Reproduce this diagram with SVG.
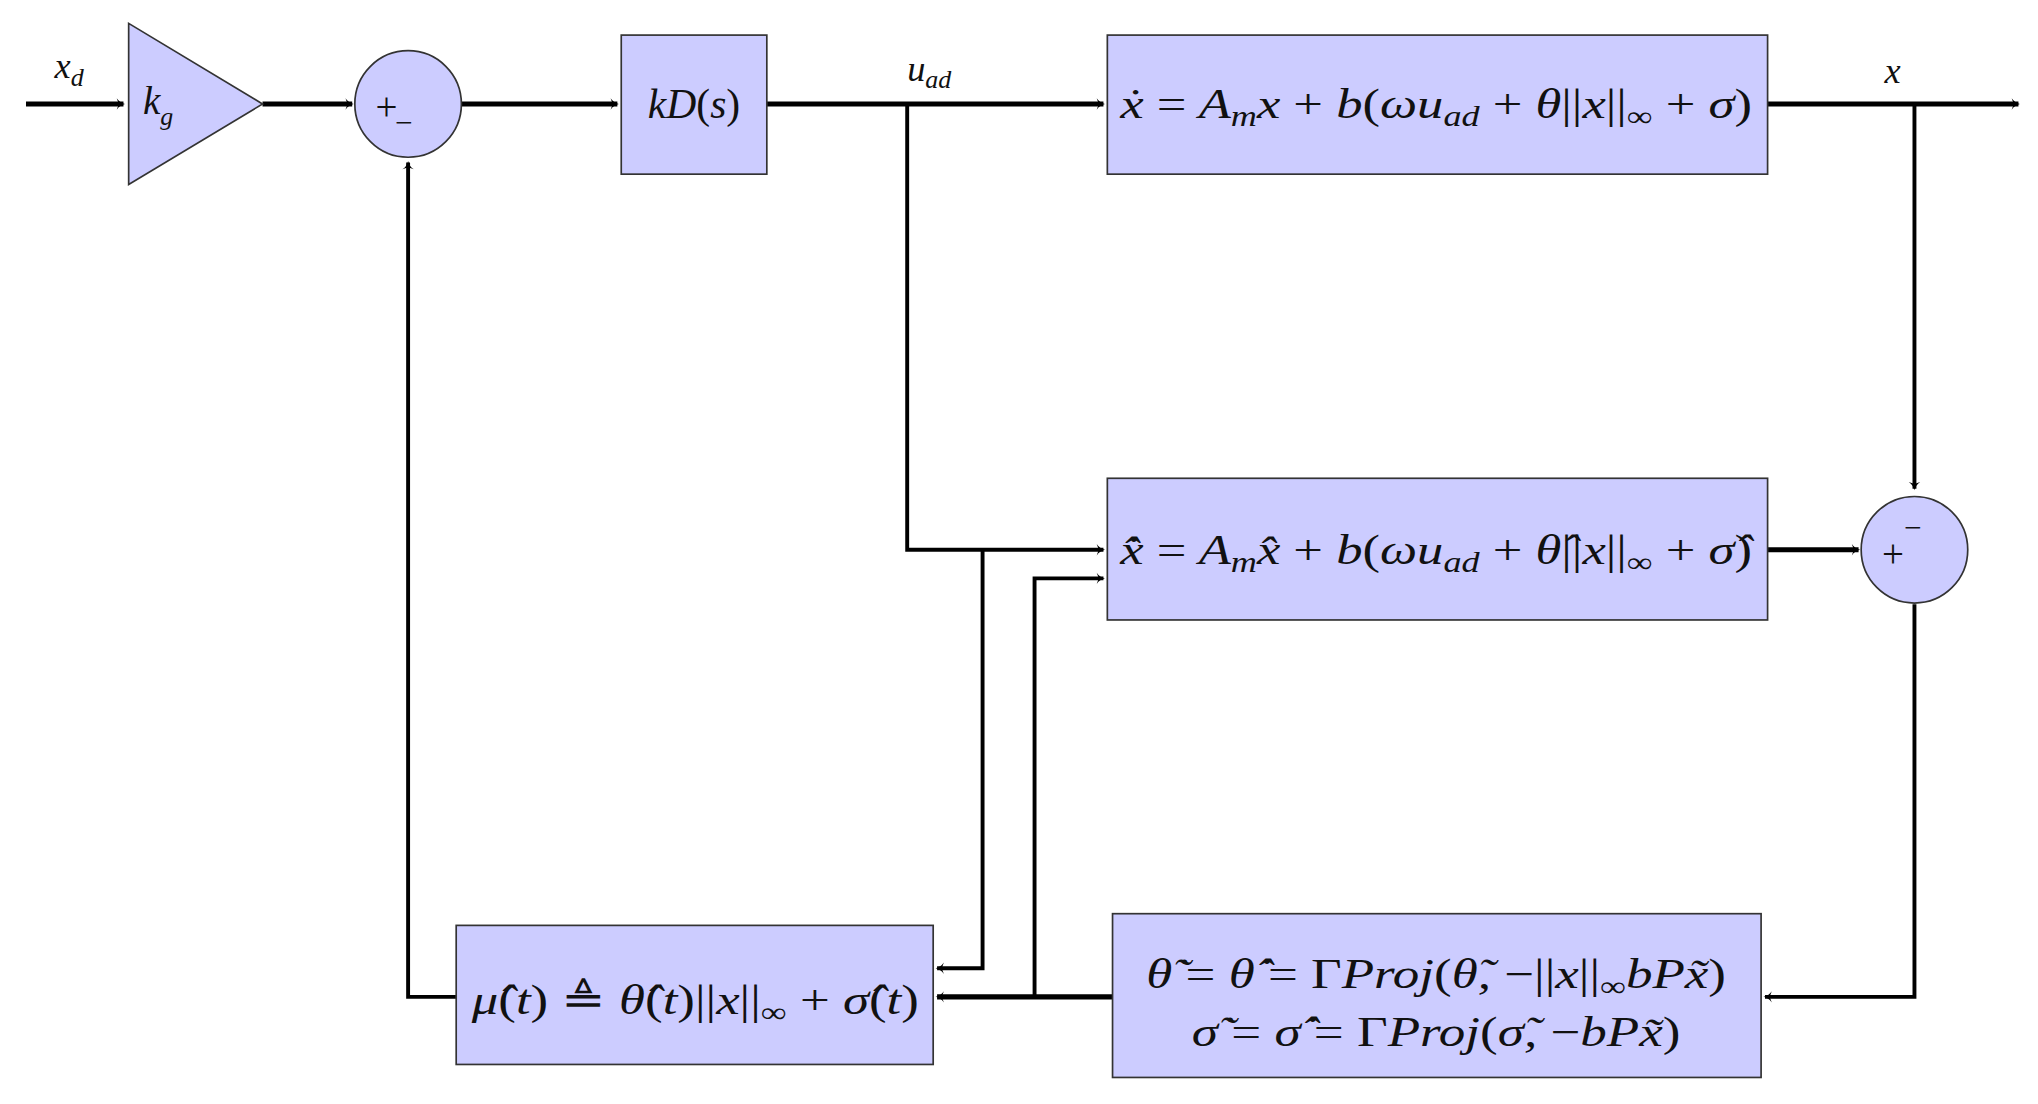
<svg xmlns="http://www.w3.org/2000/svg" width="2038" height="1104" viewBox="0 0 2038 1104">
<defs>
<marker id="ah" viewBox="0 0 10 10" refX="9" refY="5" markerWidth="4" markerHeight="4" markerUnits="userSpaceOnUse" orient="auto" overflow="visible">
<path d="M-4,-6 Q2,3 12,5 Q2,7 -4,16 L0,5 Z" fill="#000"/>
</marker>
<style>
.blk{fill:#ccccff;stroke:#333;stroke-width:1.3}
.m{font-family:"Liberation Serif",serif;font-style:italic;fill:#111}
.r{font-style:normal}
.w{fill:none;stroke:#000;stroke-width:4;stroke-linejoin:miter}
.v{fill:none;stroke:#000;stroke-width:3}
</style>
</defs>
<rect width="2038" height="1104" fill="#fff"/>
<g transform="scale(1.2997)">
<g id="connectors">
<path class="w" d="M20,80 H95" marker-end="url(#ah)"/>
<path class="w" d="M202,80 H271" marker-end="url(#ah)"/>
<path class="w" d="M355,80 H475" marker-end="url(#ah)"/>
<path class="w" d="M590,80 H849" marker-end="url(#ah)"/>
<path class="w" d="M1360,80 H1553" marker-end="url(#ah)"/>
<path class="v" d="M1473,80 V376" marker-end="url(#ah)"/>
<path class="v" d="M698,80 V423 H849" marker-end="url(#ah)"/>
<path class="v" d="M756,423 V745 H721" marker-end="url(#ah)"/>
<path class="w" d="M1360,423 H1430" marker-end="url(#ah)"/>
<path class="v" d="M1473,465 V767 H1358" marker-end="url(#ah)"/>
<path class="w" d="M856,767 H721" marker-end="url(#ah)"/>
<path class="v" d="M796,767 V445 H849" marker-end="url(#ah)"/>
<path class="v" d="M351,767 H314 V125" marker-end="url(#ah)"/>
<text class="m" x="42" y="60" font-size="28">x<tspan font-size="20" dy="6">d</tspan></text>
<text class="m" x="698" y="62" font-size="28">u<tspan font-size="20" dy="6">ad</tspan></text>
<text class="m" x="1450" y="64" font-size="28">x</text>
</g>
<g id="gain"><path class="blk" d="M99,18 L202,80 L99,142 Z"/><text class="m" x="110" y="88" font-size="30">k<tspan font-size="20" dy="8">g</tspan></text></g>
<g id="sum1"><circle class="blk" cx="314" cy="80" r="41"/><text class="m r" x="289" y="92" font-size="30">+</text><text class="m r" x="304" y="102" font-size="24">−</text></g>
<g id="kds"><rect class="blk" x="478" y="27" width="112" height="107"/><text class="m" x="534" y="91" font-size="32" text-anchor="middle">kD<tspan class="r">(</tspan>s<tspan class="r">)</tspan></text></g>
<g id="plant"><rect class="blk" x="852" y="27" width="508" height="107"/><text class="m" x="862" y="91" font-size="32" textLength="486" lengthAdjust="spacingAndGlyphs">ẋ <tspan class="r">=</tspan> A<tspan font-size="22" dy="6">m</tspan><tspan dy="-6">x </tspan><tspan class="r">+</tspan> b<tspan class="r">(</tspan>ωu<tspan font-size="22" dy="6">ad</tspan><tspan dy="-6"> </tspan><tspan class="r">+</tspan> θ<tspan class="r">||</tspan>x<tspan class="r">||</tspan><tspan class="r" font-size="22" dy="6">∞</tspan><tspan dy="-6"> </tspan><tspan class="r">+</tspan> σ<tspan class="r">)</tspan></text></g>
<g id="predictor"><rect class="blk" x="852" y="368" width="508" height="109"/><text class="m" x="862" y="434" font-size="32" textLength="486" lengthAdjust="spacingAndGlyphs">x̂̇ <tspan class="r">=</tspan> A<tspan font-size="22" dy="6">m</tspan><tspan dy="-6">x̂ </tspan><tspan class="r">+</tspan> b<tspan class="r">(</tspan>ωu<tspan font-size="22" dy="6">ad</tspan><tspan dy="-6"> </tspan><tspan class="r">+</tspan> θ̂<tspan class="r">||</tspan>x<tspan class="r">||</tspan><tspan class="r" font-size="22" dy="6">∞</tspan><tspan dy="-6"> </tspan><tspan class="r">+</tspan> σ̂<tspan class="r">)</tspan></text></g>
<g id="sum2"><circle class="blk" cx="1473" cy="423" r="41"/><text class="m r" x="1448" y="436" font-size="30">+</text><text class="m r" x="1465" y="414" font-size="24">−</text></g>
<g id="adapt"><rect class="blk" x="856" y="703" width="499" height="126"/>
<text class="m" x="1105" y="760" font-size="32" text-anchor="middle" textLength="446" lengthAdjust="spacingAndGlyphs">θ̃̇ <tspan class="r">=</tspan> θ̂̇ <tspan class="r">= Γ</tspan>Proj<tspan class="r">(</tspan>θ̃, <tspan class="r">−||</tspan>x<tspan class="r">||</tspan><tspan class="r" font-size="22" dy="6">∞</tspan><tspan dy="-6">bPx̃</tspan><tspan class="r">)</tspan></text>
<text class="m" x="1105" y="805" font-size="32" text-anchor="middle" textLength="376" lengthAdjust="spacingAndGlyphs">σ̃̇ <tspan class="r">=</tspan> σ̂̇ <tspan class="r">= Γ</tspan>Proj<tspan class="r">(</tspan>σ̃, <tspan class="r">−</tspan>bPx̃<tspan class="r">)</tspan></text></g>
<g id="mu"><rect class="blk" x="351" y="712" width="367" height="107"/><text class="m" x="363" y="780" font-size="32" textLength="344" lengthAdjust="spacingAndGlyphs">μ̂<tspan class="r">(</tspan>t<tspan class="r">) ≜ </tspan>θ̂<tspan class="r">(</tspan>t<tspan class="r">)||</tspan>x<tspan class="r">||</tspan><tspan class="r" font-size="22" dy="6">∞</tspan><tspan dy="-6"> </tspan><tspan class="r">+ </tspan>σ̂<tspan class="r">(</tspan>t<tspan class="r">)</tspan></text></g>
</g>
</svg>
